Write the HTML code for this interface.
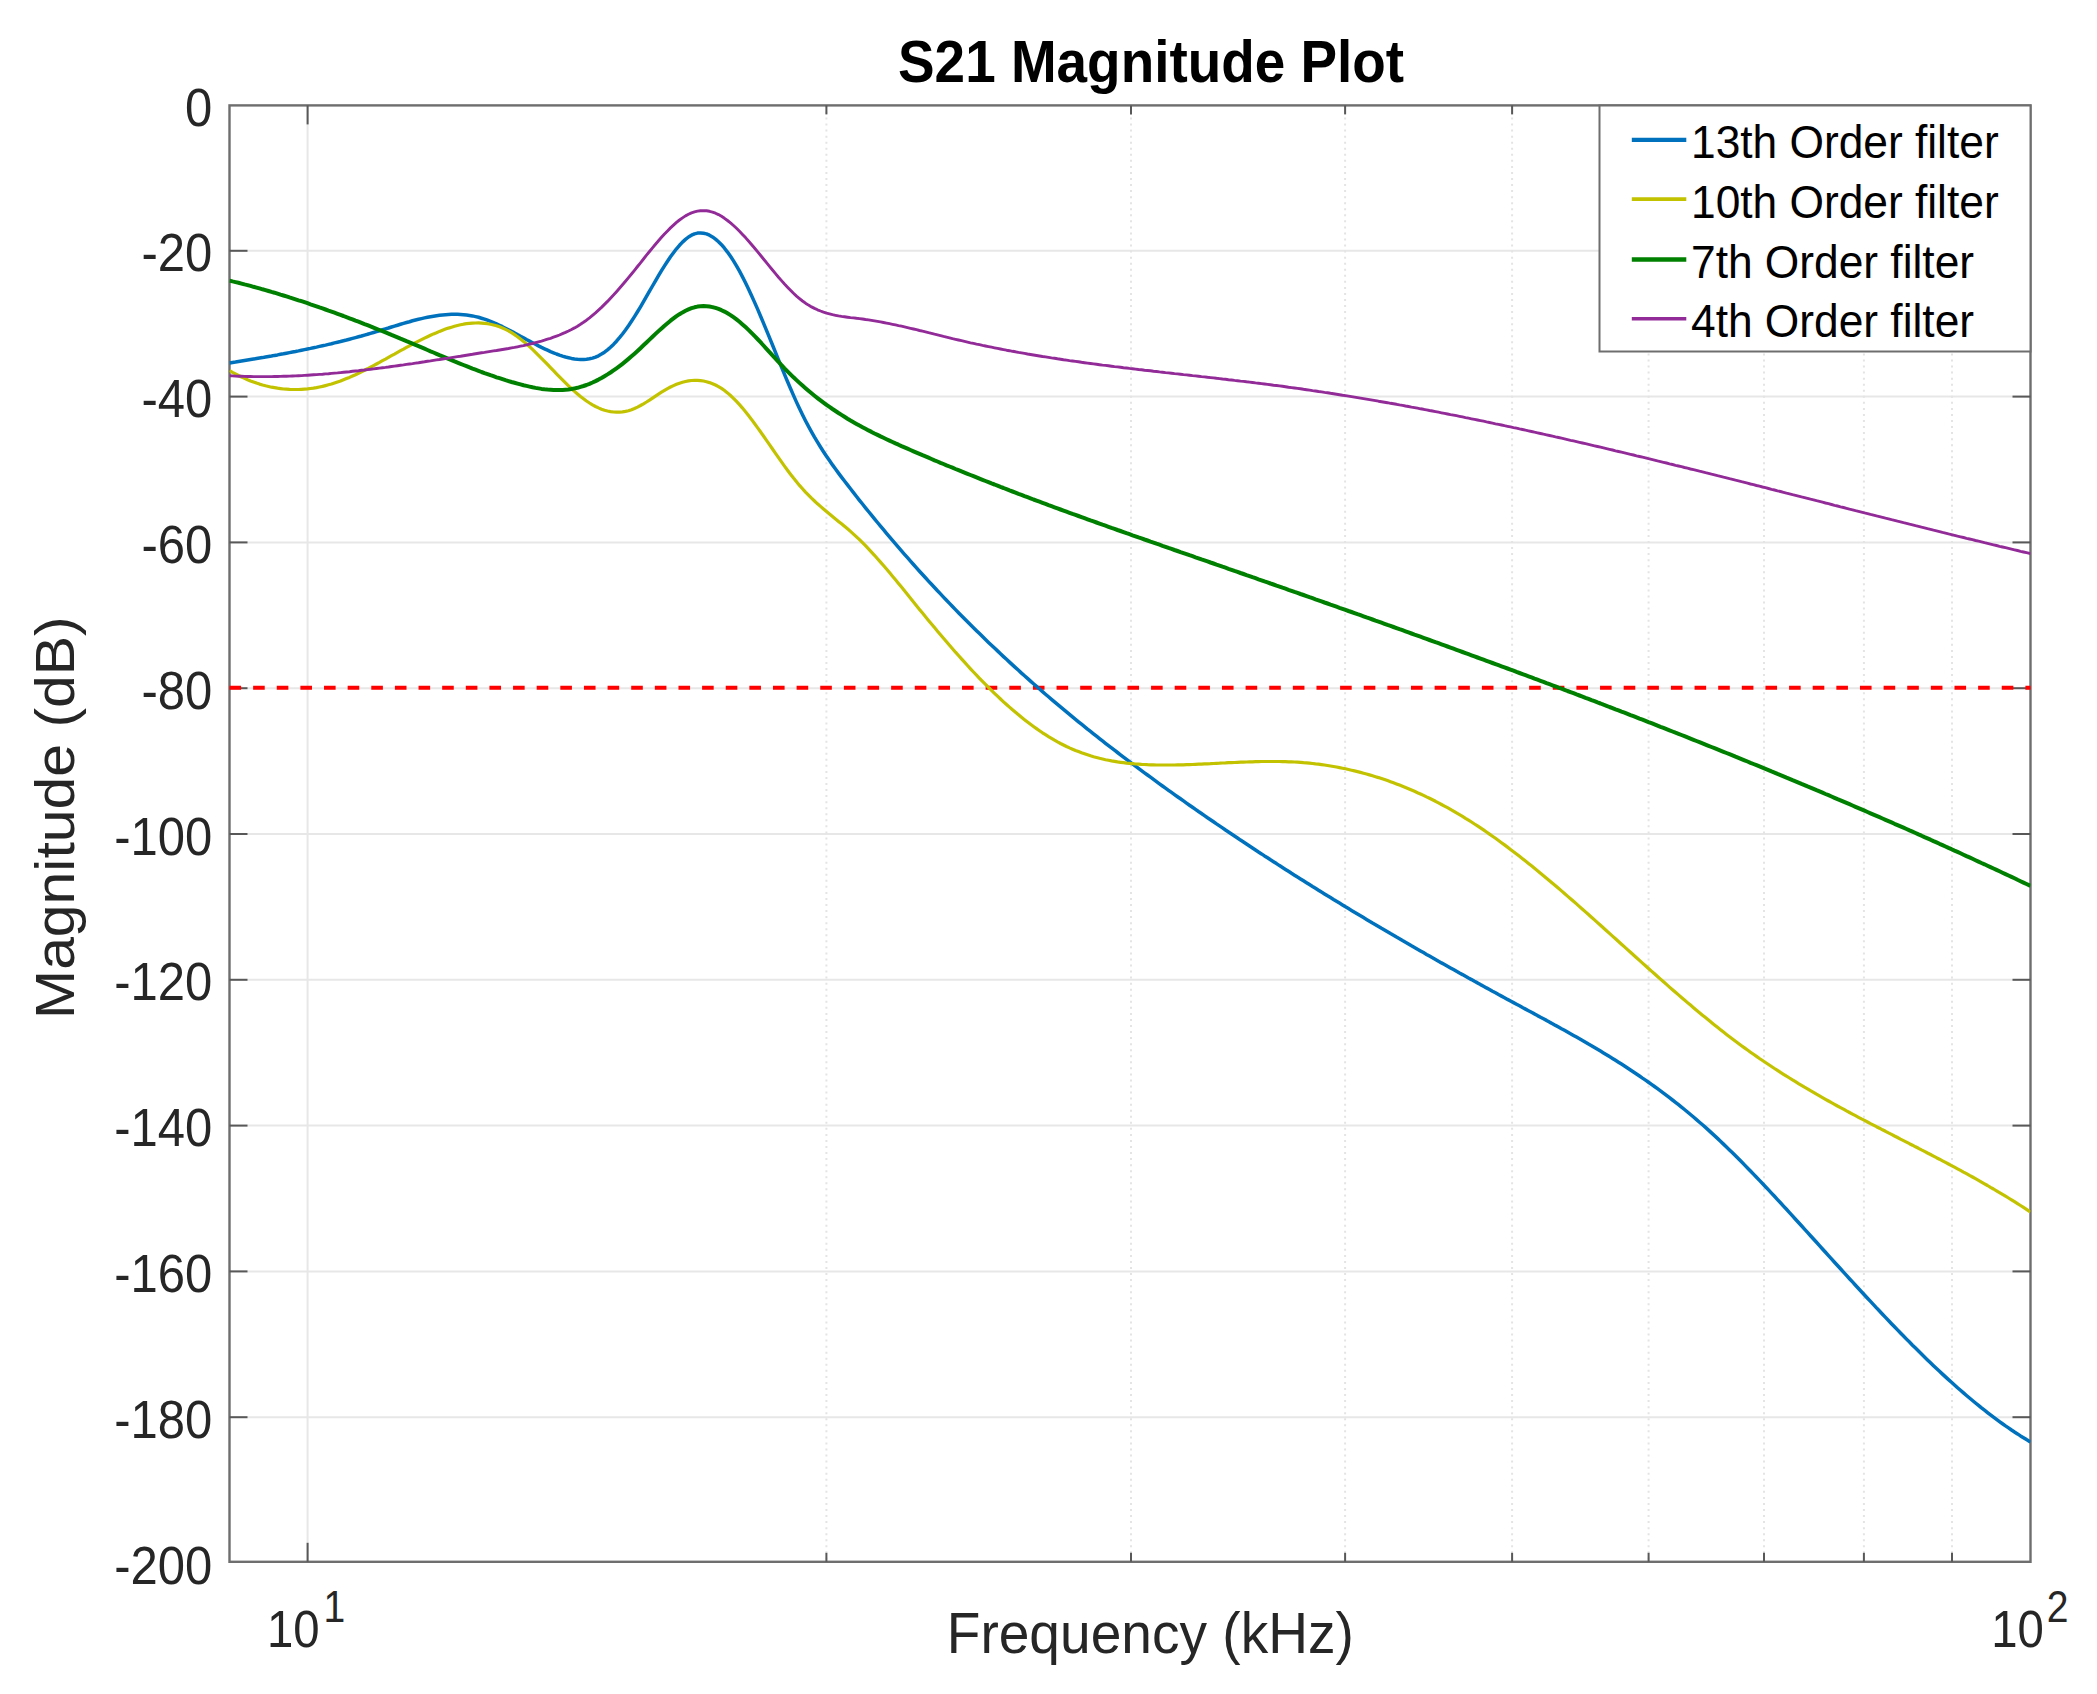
<!DOCTYPE html>
<html lang="en"><head><meta charset="utf-8"><title>S21 Magnitude Plot</title>
<style>html,body{margin:0;padding:0;background:#fff}body{width:2097px;height:1694px;overflow:hidden}svg{display:block}text{font-family:"Liberation Sans",sans-serif}.tk{font-size:54px;fill:#262626}.tx{font-size:52px;fill:#262626}.sp{font-size:44.4px;fill:#262626}.yl{font-size:55.4px;fill:#262626}.lb{font-size:57px;fill:#262626}.lg{font-size:46px;fill:#000}.tt{font-size:59px;font-weight:bold;fill:#000}</style></head><body>
<svg width="2097" height="1694" viewBox="0 0 2097 1694">
<rect width="2097" height="1694" fill="#fff"/>
<g stroke="#e7e7e7" stroke-width="2" fill="none">
<line x1="229.5" x2="2030.5" y1="250.8" y2="250.8"/>
<line x1="229.5" x2="2030.5" y1="396.6" y2="396.6"/>
<line x1="229.5" x2="2030.5" y1="542.4" y2="542.4"/>
<line x1="229.5" x2="2030.5" y1="688.2" y2="688.2"/>
<line x1="229.5" x2="2030.5" y1="834.0" y2="834.0"/>
<line x1="229.5" x2="2030.5" y1="979.8" y2="979.8"/>
<line x1="229.5" x2="2030.5" y1="1125.6" y2="1125.6"/>
<line x1="229.5" x2="2030.5" y1="1271.4" y2="1271.4"/>
<line x1="229.5" x2="2030.5" y1="1417.2" y2="1417.2"/>
<line x1="307.6" x2="307.6" y1="105.4" y2="1561.8"/>
</g>
<g stroke="#e4e4e4" stroke-width="2" stroke-dasharray="2 4.05" fill="none">
<line x1="826.4" x2="826.4" y1="105.4" y2="1561.8"/>
<line x1="1131.0" x2="1131.0" y1="105.4" y2="1561.8"/>
<line x1="1345.1" x2="1345.1" y1="105.4" y2="1561.8"/>
<line x1="1512.1" x2="1512.1" y1="105.4" y2="1561.8"/>
<line x1="1648.6" x2="1648.6" y1="105.4" y2="1561.8"/>
<line x1="1764.0" x2="1764.0" y1="105.4" y2="1561.8"/>
<line x1="1863.9" x2="1863.9" y1="105.4" y2="1561.8"/>
<line x1="1952.0" x2="1952.0" y1="105.4" y2="1561.8"/>
</g>
<rect x="229.5" y="105.4" width="1801.0" height="1456.3999999999999" fill="none" stroke="#6e6e6e" stroke-width="2.4"/>
<g stroke="#585858" stroke-width="2" fill="none">
<line x1="229.5" x2="247.5" y1="250.8" y2="250.8"/>
<line x1="2030.5" x2="2012.5" y1="250.8" y2="250.8"/>
<line x1="229.5" x2="247.5" y1="396.6" y2="396.6"/>
<line x1="2030.5" x2="2012.5" y1="396.6" y2="396.6"/>
<line x1="229.5" x2="247.5" y1="542.4" y2="542.4"/>
<line x1="2030.5" x2="2012.5" y1="542.4" y2="542.4"/>
<line x1="229.5" x2="247.5" y1="688.2" y2="688.2"/>
<line x1="2030.5" x2="2012.5" y1="688.2" y2="688.2"/>
<line x1="229.5" x2="247.5" y1="834.0" y2="834.0"/>
<line x1="2030.5" x2="2012.5" y1="834.0" y2="834.0"/>
<line x1="229.5" x2="247.5" y1="979.8" y2="979.8"/>
<line x1="2030.5" x2="2012.5" y1="979.8" y2="979.8"/>
<line x1="229.5" x2="247.5" y1="1125.6" y2="1125.6"/>
<line x1="2030.5" x2="2012.5" y1="1125.6" y2="1125.6"/>
<line x1="229.5" x2="247.5" y1="1271.4" y2="1271.4"/>
<line x1="2030.5" x2="2012.5" y1="1271.4" y2="1271.4"/>
<line x1="229.5" x2="247.5" y1="1417.2" y2="1417.2"/>
<line x1="2030.5" x2="2012.5" y1="1417.2" y2="1417.2"/>
<line x1="307.6" x2="307.6" y1="105.4" y2="124.4"/>
<line x1="307.6" x2="307.6" y1="1561.8" y2="1542.8"/>
<line x1="826.4" x2="826.4" y1="105.4" y2="114.4"/>
<line x1="826.4" x2="826.4" y1="1561.8" y2="1552.8"/>
<line x1="1131.0" x2="1131.0" y1="105.4" y2="114.4"/>
<line x1="1131.0" x2="1131.0" y1="1561.8" y2="1552.8"/>
<line x1="1345.1" x2="1345.1" y1="105.4" y2="114.4"/>
<line x1="1345.1" x2="1345.1" y1="1561.8" y2="1552.8"/>
<line x1="1512.1" x2="1512.1" y1="105.4" y2="114.4"/>
<line x1="1512.1" x2="1512.1" y1="1561.8" y2="1552.8"/>
<line x1="1648.6" x2="1648.6" y1="105.4" y2="114.4"/>
<line x1="1648.6" x2="1648.6" y1="1561.8" y2="1552.8"/>
<line x1="1764.0" x2="1764.0" y1="105.4" y2="114.4"/>
<line x1="1764.0" x2="1764.0" y1="1561.8" y2="1552.8"/>
<line x1="1863.9" x2="1863.9" y1="105.4" y2="114.4"/>
<line x1="1863.9" x2="1863.9" y1="1561.8" y2="1552.8"/>
<line x1="1952.0" x2="1952.0" y1="105.4" y2="114.4"/>
<line x1="1952.0" x2="1952.0" y1="1561.8" y2="1552.8"/>
</g>
<line x1="229.5" x2="2030.5" y1="687.8" y2="687.8" stroke="#ff0000" stroke-width="3.9" stroke-dasharray="11.6 12.03"/>
<clipPath id="c"><rect x="229.5" y="105.4" width="1801.0" height="1456.3999999999999"/></clipPath>
<g clip-path="url(#c)" fill="none" stroke-linejoin="round" stroke-linecap="butt">
<path d="M229.5,363.0 L232.5,362.5 L235.5,362.1 L238.5,361.6 L241.5,361.1 L244.5,360.6 L247.5,360.1 L250.5,359.6 L253.5,359.1 L256.5,358.6 L259.5,358.1 L262.5,357.6 L265.5,357.0 L268.5,356.5 L271.5,356.0 L274.5,355.4 L277.5,354.9 L280.5,354.3 L283.5,353.8 L286.5,353.2 L289.5,352.6 L292.5,352.0 L295.5,351.5 L298.5,350.9 L301.5,350.2 L304.5,349.6 L307.5,349.0 L310.5,348.4 L313.5,347.7 L316.5,347.1 L319.5,346.4 L322.5,345.7 L325.5,345.1 L328.5,344.4 L331.5,343.7 L334.5,342.9 L337.5,342.2 L340.5,341.5 L343.5,340.7 L346.5,340.0 L349.5,339.2 L352.5,338.4 L355.5,337.6 L358.5,336.8 L361.5,336.0 L364.5,335.1 L367.5,334.3 L370.5,333.4 L373.5,332.5 L376.5,331.6 L379.5,330.7 L382.5,329.8 L385.5,328.9 L388.5,328.0 L391.5,327.0 L394.5,326.1 L397.5,325.2 L400.5,324.3 L403.5,323.4 L406.5,322.5 L409.5,321.7 L412.5,320.8 L415.5,320.0 L418.5,319.3 L421.5,318.6 L424.5,317.9 L427.5,317.3 L430.5,316.7 L433.5,316.2 L436.5,315.7 L439.5,315.3 L442.5,314.9 L445.5,314.7 L448.5,314.5 L451.5,314.3 L454.5,314.3 L457.5,314.3 L460.5,314.5 L463.5,314.7 L466.5,315.0 L469.5,315.4 L472.5,315.9 L475.5,316.6 L478.5,317.3 L481.5,318.2 L484.5,319.1 L487.5,320.2 L490.5,321.3 L493.5,322.6 L496.5,323.9 L499.5,325.3 L502.5,326.7 L505.5,328.2 L508.5,329.7 L511.5,331.3 L514.5,332.9 L517.5,334.6 L520.5,336.2 L523.5,337.8 L526.5,339.5 L529.5,341.1 L532.5,342.7 L535.5,344.3 L538.5,345.9 L541.5,347.4 L544.5,348.8 L547.5,350.2 L550.5,351.6 L553.5,352.8 L556.5,354.0 L559.5,355.1 L562.5,356.1 L565.5,357.0 L568.5,357.7 L571.5,358.4 L574.5,358.9 L577.5,359.2 L580.5,359.4 L583.5,359.5 L586.5,359.2 L589.5,358.8 L592.5,358.1 L595.5,357.1 L598.5,355.8 L601.5,354.1 L604.5,352.2 L607.5,349.9 L610.5,347.3 L613.5,344.4 L616.5,341.2 L619.5,337.7 L622.5,334.0 L625.5,330.0 L628.5,325.8 L631.5,321.3 L634.5,316.6 L637.5,311.8 L640.5,306.8 L643.5,301.6 L646.5,296.4 L649.5,291.2 L652.5,286.0 L655.5,280.8 L658.5,275.7 L661.5,270.7 L664.5,265.9 L667.5,261.2 L670.5,256.8 L673.5,252.7 L676.5,248.8 L679.5,245.3 L682.5,242.1 L685.5,239.4 L688.5,237.0 L691.5,235.2 L694.5,233.9 L697.5,233.1 L700.5,232.9 L703.5,233.2 L706.5,233.9 L709.5,235.2 L712.5,236.9 L715.5,239.1 L718.5,241.7 L721.5,244.7 L724.5,248.2 L727.5,252.1 L730.5,256.3 L733.5,260.9 L736.5,265.9 L739.5,271.2 L742.5,276.8 L745.5,282.7 L748.5,289.0 L751.5,295.4 L754.5,302.1 L757.5,308.9 L760.5,316.0 L763.5,323.1 L766.5,330.4 L769.5,337.7 L772.5,345.0 L775.5,352.4 L778.5,359.8 L781.5,367.1 L784.5,374.4 L787.5,381.5 L790.5,388.5 L793.5,395.4 L796.5,402.1 L799.5,408.5 L802.5,414.7 L805.5,420.7 L808.5,426.4 L811.5,431.8 L814.5,437.1 L817.5,442.1 L820.5,447.0 L823.5,451.7 L826.5,456.2 L829.5,460.6 L832.5,464.9 L835.5,469.0 L838.5,473.1 L841.5,477.1 L844.5,481.0 L847.5,484.9 L850.5,488.8 L853.5,492.6 L856.5,496.5 L859.5,500.3 L862.5,504.0 L865.5,507.8 L868.5,511.5 L871.5,515.2 L874.5,518.9 L877.5,522.5 L880.5,526.1 L883.5,529.7 L886.5,533.3 L889.5,536.9 L892.5,540.4 L895.5,543.9 L898.5,547.4 L901.5,550.9 L904.5,554.3 L907.5,557.7 L910.5,561.1 L913.5,564.5 L916.5,567.9 L919.5,571.2 L922.5,574.5 L925.5,577.8 L928.5,581.1 L931.5,584.3 L934.5,587.5 L937.5,590.8 L940.5,593.9 L943.5,597.1 L946.5,600.3 L949.5,603.4 L952.5,606.5 L955.5,609.6 L958.5,612.7 L961.5,615.7 L964.5,618.8 L967.5,621.8 L970.5,624.8 L973.5,627.7 L976.5,630.7 L979.5,633.6 L982.5,636.6 L985.5,639.5 L988.5,642.4 L991.5,645.2 L994.5,648.1 L997.5,650.9 L1000.5,653.8 L1003.5,656.6 L1006.5,659.3 L1009.5,662.1 L1012.5,664.9 L1015.5,667.6 L1018.5,670.3 L1021.5,673.1 L1024.5,675.7 L1027.5,678.4 L1030.5,681.1 L1033.5,683.7 L1036.5,686.4 L1039.5,689.0 L1042.5,691.6 L1045.5,694.2 L1048.5,696.8 L1051.5,699.3 L1054.5,701.9 L1057.5,704.4 L1060.5,706.9 L1063.5,709.4 L1066.5,711.9 L1069.5,714.4 L1072.5,716.9 L1075.5,719.3 L1078.5,721.8 L1081.5,724.2 L1084.5,726.6 L1087.5,729.1 L1090.5,731.4 L1093.5,733.8 L1096.5,736.2 L1099.5,738.6 L1102.5,740.9 L1105.5,743.3 L1108.5,745.6 L1111.5,747.9 L1114.5,750.2 L1117.5,752.5 L1120.5,754.8 L1123.5,757.1 L1126.5,759.4 L1129.5,761.6 L1132.5,763.9 L1135.5,766.1 L1138.5,768.4 L1141.5,770.6 L1144.5,772.8 L1147.5,775.0 L1150.5,777.2 L1153.5,779.4 L1156.5,781.6 L1159.5,783.8 L1162.5,786.0 L1165.5,788.1 L1168.5,790.3 L1171.5,792.4 L1174.5,794.6 L1177.5,796.7 L1180.5,798.8 L1183.5,800.9 L1186.5,803.1 L1189.5,805.2 L1192.5,807.3 L1195.5,809.4 L1198.5,811.5 L1201.5,813.5 L1204.5,815.6 L1207.5,817.7 L1210.5,819.7 L1213.5,821.8 L1216.5,823.9 L1219.5,825.9 L1222.5,827.9 L1225.5,830.0 L1228.5,832.0 L1231.5,834.0 L1234.5,836.0 L1237.5,838.0 L1240.5,840.1 L1243.5,842.0 L1246.5,844.0 L1249.5,846.0 L1252.5,848.0 L1255.5,850.0 L1258.5,852.0 L1261.5,853.9 L1264.5,855.9 L1267.5,857.8 L1270.5,859.8 L1273.5,861.7 L1276.5,863.6 L1279.5,865.6 L1282.5,867.5 L1285.5,869.4 L1288.5,871.3 L1291.5,873.3 L1294.5,875.2 L1297.5,877.1 L1300.5,878.9 L1303.5,880.8 L1306.5,882.7 L1309.5,884.6 L1312.5,886.5 L1315.5,888.3 L1318.5,890.2 L1321.5,892.1 L1324.5,893.9 L1327.5,895.8 L1330.5,897.6 L1333.5,899.5 L1336.5,901.3 L1339.5,903.1 L1342.5,904.9 L1345.5,906.8 L1348.5,908.6 L1351.5,910.4 L1354.5,912.2 L1357.5,914.0 L1360.5,915.8 L1363.5,917.6 L1366.5,919.4 L1369.5,921.2 L1372.5,923.0 L1375.5,924.7 L1378.5,926.5 L1381.5,928.3 L1384.5,930.0 L1387.5,931.8 L1390.5,933.6 L1393.5,935.3 L1396.5,937.1 L1399.5,938.8 L1402.5,940.6 L1405.5,942.3 L1408.5,944.0 L1411.5,945.8 L1414.5,947.5 L1417.5,949.2 L1420.5,950.9 L1423.5,952.6 L1426.5,954.4 L1429.5,956.1 L1432.5,957.8 L1435.5,959.5 L1438.5,961.2 L1441.5,962.9 L1444.5,964.5 L1447.5,966.2 L1450.5,967.9 L1453.5,969.6 L1456.5,971.3 L1459.5,973.0 L1462.5,974.6 L1465.5,976.3 L1468.5,978.0 L1471.5,979.6 L1474.5,981.3 L1477.5,982.9 L1480.5,984.6 L1483.5,986.2 L1486.5,987.9 L1489.5,989.5 L1492.5,991.2 L1495.5,992.8 L1498.5,994.5 L1501.5,996.1 L1504.5,997.7 L1507.5,999.4 L1510.5,1001.0 L1513.5,1002.6 L1516.5,1004.2 L1519.5,1005.8 L1522.5,1007.5 L1525.5,1009.1 L1528.5,1010.7 L1531.5,1012.3 L1534.5,1013.9 L1537.5,1015.6 L1540.5,1017.2 L1543.5,1018.8 L1546.5,1020.4 L1549.5,1022.1 L1552.5,1023.7 L1555.5,1025.4 L1558.5,1027.0 L1561.5,1028.7 L1564.5,1030.3 L1567.5,1032.0 L1570.5,1033.7 L1573.5,1035.4 L1576.5,1037.1 L1579.5,1038.8 L1582.5,1040.5 L1585.5,1042.2 L1588.5,1044.0 L1591.5,1045.7 L1594.5,1047.5 L1597.5,1049.3 L1600.5,1051.1 L1603.5,1052.9 L1606.5,1054.7 L1609.5,1056.6 L1612.5,1058.4 L1615.5,1060.3 L1618.5,1062.2 L1621.5,1064.1 L1624.5,1066.0 L1627.5,1068.0 L1630.5,1070.0 L1633.5,1072.0 L1636.5,1074.0 L1639.5,1076.0 L1642.5,1078.1 L1645.5,1080.1 L1648.5,1082.2 L1651.5,1084.4 L1654.5,1086.5 L1657.5,1088.7 L1660.5,1090.9 L1663.5,1093.1 L1666.5,1095.4 L1669.5,1097.7 L1672.5,1100.0 L1675.5,1102.3 L1678.5,1104.7 L1681.5,1107.1 L1684.5,1109.5 L1687.5,1112.0 L1690.5,1114.5 L1693.5,1117.0 L1696.5,1119.6 L1699.5,1122.2 L1702.5,1124.8 L1705.5,1127.4 L1708.5,1130.1 L1711.5,1132.9 L1714.5,1135.6 L1717.5,1138.4 L1720.5,1141.3 L1723.5,1144.1 L1726.5,1147.0 L1729.5,1149.9 L1732.5,1152.8 L1735.5,1155.8 L1738.5,1158.8 L1741.5,1161.8 L1744.5,1164.9 L1747.5,1167.9 L1750.5,1171.0 L1753.5,1174.1 L1756.5,1177.2 L1759.5,1180.4 L1762.5,1183.5 L1765.5,1186.7 L1768.5,1189.9 L1771.5,1193.1 L1774.5,1196.3 L1777.5,1199.6 L1780.5,1202.8 L1783.5,1206.1 L1786.5,1209.3 L1789.5,1212.6 L1792.5,1215.9 L1795.5,1219.2 L1798.5,1222.5 L1801.5,1225.8 L1804.5,1229.1 L1807.5,1232.4 L1810.5,1235.7 L1813.5,1239.0 L1816.5,1242.3 L1819.5,1245.7 L1822.5,1249.0 L1825.5,1252.3 L1828.5,1255.6 L1831.5,1258.9 L1834.5,1262.2 L1837.5,1265.5 L1840.5,1268.8 L1843.5,1272.1 L1846.5,1275.4 L1849.5,1278.7 L1852.5,1281.9 L1855.5,1285.2 L1858.5,1288.5 L1861.5,1291.7 L1864.5,1295.0 L1867.5,1298.2 L1870.5,1301.4 L1873.5,1304.6 L1876.5,1307.9 L1879.5,1311.0 L1882.5,1314.2 L1885.5,1317.4 L1888.5,1320.5 L1891.5,1323.7 L1894.5,1326.8 L1897.5,1329.9 L1900.5,1333.0 L1903.5,1336.0 L1906.5,1339.1 L1909.5,1342.1 L1912.5,1345.2 L1915.5,1348.1 L1918.5,1351.1 L1921.5,1354.1 L1924.5,1357.0 L1927.5,1359.9 L1930.5,1362.8 L1933.5,1365.7 L1936.5,1368.5 L1939.5,1371.3 L1942.5,1374.1 L1945.5,1376.9 L1948.5,1379.6 L1951.5,1382.3 L1954.5,1385.0 L1957.5,1387.7 L1960.5,1390.3 L1963.5,1392.9 L1966.5,1395.5 L1969.5,1398.0 L1972.5,1400.5 L1975.5,1403.0 L1978.5,1405.4 L1981.5,1407.9 L1984.5,1410.2 L1987.5,1412.6 L1990.5,1414.9 L1993.5,1417.1 L1996.5,1419.4 L1999.5,1421.6 L2002.5,1423.7 L2005.5,1425.9 L2008.5,1427.9 L2011.5,1430.0 L2014.5,1432.0 L2017.5,1433.9 L2020.5,1435.9 L2023.5,1437.7 L2026.5,1439.6 L2029.5,1441.4 L2030.5,1442.0" stroke="#0072bd" stroke-width="3.5"/>
<path d="M229.5,370.5 L232.5,372.3 L235.5,373.9 L238.5,375.5 L241.5,377.0 L244.5,378.3 L247.5,379.7 L250.5,380.9 L253.5,382.0 L256.5,383.1 L259.5,384.1 L262.5,385.0 L265.5,385.8 L268.5,386.5 L271.5,387.2 L274.5,387.7 L277.5,388.2 L280.5,388.6 L283.5,389.0 L286.5,389.2 L289.5,389.4 L292.5,389.5 L295.5,389.5 L298.5,389.5 L301.5,389.3 L304.5,389.1 L307.5,388.9 L310.5,388.5 L313.5,388.1 L316.5,387.6 L319.5,387.0 L322.5,386.4 L325.5,385.6 L328.5,384.8 L331.5,384.0 L334.5,383.0 L337.5,382.0 L340.5,381.0 L343.5,379.8 L346.5,378.6 L349.5,377.4 L352.5,376.0 L355.5,374.7 L358.5,373.3 L361.5,371.8 L364.5,370.3 L367.5,368.8 L370.5,367.2 L373.5,365.6 L376.5,364.0 L379.5,362.4 L382.5,360.7 L385.5,359.1 L388.5,357.4 L391.5,355.7 L394.5,354.1 L397.5,352.4 L400.5,350.7 L403.5,349.1 L406.5,347.4 L409.5,345.8 L412.5,344.2 L415.5,342.6 L418.5,341.1 L421.5,339.6 L424.5,338.1 L427.5,336.7 L430.5,335.3 L433.5,333.9 L436.5,332.7 L439.5,331.4 L442.5,330.2 L445.5,329.1 L448.5,328.1 L451.5,327.2 L454.5,326.3 L457.5,325.5 L460.5,324.8 L463.5,324.2 L466.5,323.7 L469.5,323.4 L472.5,323.1 L475.5,323.0 L478.5,322.9 L481.5,323.1 L484.5,323.3 L487.5,323.7 L490.5,324.3 L493.5,325.0 L496.5,325.8 L499.5,326.8 L502.5,328.0 L505.5,329.4 L508.5,330.9 L511.5,332.7 L514.5,334.6 L517.5,336.7 L520.5,339.0 L523.5,341.4 L526.5,344.0 L529.5,346.6 L532.5,349.4 L535.5,352.3 L538.5,355.3 L541.5,358.3 L544.5,361.3 L547.5,364.4 L550.5,367.6 L553.5,370.7 L556.5,373.8 L559.5,376.9 L562.5,379.9 L565.5,382.9 L568.5,385.8 L571.5,388.7 L574.5,391.4 L577.5,394.0 L580.5,396.5 L583.5,398.8 L586.5,401.0 L589.5,403.0 L592.5,404.9 L595.5,406.5 L598.5,407.9 L601.5,409.2 L604.5,410.2 L607.5,411.0 L610.5,411.6 L613.5,412.0 L616.5,412.2 L619.5,412.2 L622.5,411.9 L625.5,411.4 L628.5,410.7 L631.5,409.7 L634.5,408.5 L637.5,407.1 L640.5,405.5 L643.5,403.8 L646.5,402.0 L649.5,400.1 L652.5,398.1 L655.5,396.1 L658.5,394.1 L661.5,392.2 L664.5,390.4 L667.5,388.6 L670.5,387.0 L673.5,385.6 L676.5,384.3 L679.5,383.2 L682.5,382.3 L685.5,381.5 L688.5,380.9 L691.5,380.5 L694.5,380.4 L697.5,380.4 L700.5,380.6 L703.5,381.0 L706.5,381.7 L709.5,382.6 L712.5,383.7 L715.5,385.0 L718.5,386.6 L721.5,388.4 L724.5,390.5 L727.5,392.9 L730.5,395.5 L733.5,398.3 L736.5,401.4 L739.5,404.7 L742.5,408.1 L745.5,411.7 L748.5,415.5 L751.5,419.4 L754.5,423.5 L757.5,427.6 L760.5,431.8 L763.5,436.0 L766.5,440.3 L769.5,444.7 L772.5,449.0 L775.5,453.3 L778.5,457.6 L781.5,461.9 L784.5,466.1 L787.5,470.2 L790.5,474.2 L793.5,478.1 L796.5,481.8 L799.5,485.4 L802.5,488.8 L805.5,492.1 L808.5,495.2 L811.5,498.2 L814.5,501.0 L817.5,503.8 L820.5,506.4 L823.5,509.0 L826.5,511.5 L829.5,514.0 L832.5,516.5 L835.5,518.9 L838.5,521.4 L841.5,523.8 L844.5,526.3 L847.5,528.8 L850.5,531.4 L853.5,534.1 L856.5,536.9 L859.5,539.7 L862.5,542.7 L865.5,545.7 L868.5,548.9 L871.5,552.1 L874.5,555.3 L877.5,558.7 L880.5,562.1 L883.5,565.5 L886.5,569.0 L889.5,572.6 L892.5,576.2 L895.5,579.8 L898.5,583.4 L901.5,587.1 L904.5,590.8 L907.5,594.5 L910.5,598.2 L913.5,601.9 L916.5,605.7 L919.5,609.4 L922.5,613.1 L925.5,616.7 L928.5,620.4 L931.5,624.0 L934.5,627.6 L937.5,631.2 L940.5,634.8 L943.5,638.3 L946.5,641.8 L949.5,645.3 L952.5,648.7 L955.5,652.2 L958.5,655.5 L961.5,658.9 L964.5,662.2 L967.5,665.5 L970.5,668.8 L973.5,672.0 L976.5,675.1 L979.5,678.3 L982.5,681.4 L985.5,684.4 L988.5,687.4 L991.5,690.4 L994.5,693.3 L997.5,696.2 L1000.5,699.0 L1003.5,701.8 L1006.5,704.5 L1009.5,707.1 L1012.5,709.8 L1015.5,712.3 L1018.5,714.8 L1021.5,717.3 L1024.5,719.7 L1027.5,722.0 L1030.5,724.3 L1033.5,726.5 L1036.5,728.6 L1039.5,730.7 L1042.5,732.8 L1045.5,734.7 L1048.5,736.6 L1051.5,738.4 L1054.5,740.2 L1057.5,741.9 L1060.5,743.5 L1063.5,745.0 L1066.5,746.5 L1069.5,747.9 L1072.5,749.2 L1075.5,750.5 L1078.5,751.6 L1081.5,752.8 L1084.5,753.8 L1087.5,754.8 L1090.5,755.8 L1093.5,756.7 L1096.5,757.5 L1099.5,758.3 L1102.5,759.0 L1105.5,759.7 L1108.5,760.3 L1111.5,760.9 L1114.5,761.4 L1117.5,761.9 L1120.5,762.3 L1123.5,762.7 L1126.5,763.1 L1129.5,763.4 L1132.5,763.7 L1135.5,764.0 L1138.5,764.2 L1141.5,764.4 L1144.5,764.5 L1147.5,764.7 L1150.5,764.8 L1153.5,764.9 L1156.5,765.0 L1159.5,765.0 L1162.5,765.0 L1165.5,765.0 L1168.5,765.0 L1171.5,765.0 L1174.5,765.0 L1177.5,764.9 L1180.5,764.8 L1183.5,764.8 L1186.5,764.7 L1189.5,764.6 L1192.5,764.5 L1195.5,764.3 L1198.5,764.2 L1201.5,764.1 L1204.5,763.9 L1207.5,763.8 L1210.5,763.7 L1213.5,763.5 L1216.5,763.3 L1219.5,763.2 L1222.5,763.0 L1225.5,762.9 L1228.5,762.7 L1231.5,762.6 L1234.5,762.5 L1237.5,762.3 L1240.5,762.2 L1243.5,762.1 L1246.5,762.0 L1249.5,761.8 L1252.5,761.8 L1255.5,761.7 L1258.5,761.6 L1261.5,761.5 L1264.5,761.5 L1267.5,761.5 L1270.5,761.5 L1273.5,761.5 L1276.5,761.5 L1279.5,761.5 L1282.5,761.6 L1285.5,761.7 L1288.5,761.8 L1291.5,761.9 L1294.5,762.0 L1297.5,762.2 L1300.5,762.4 L1303.5,762.7 L1306.5,762.9 L1309.5,763.2 L1312.5,763.5 L1315.5,763.9 L1318.5,764.2 L1321.5,764.6 L1324.5,765.0 L1327.5,765.5 L1330.5,766.0 L1333.5,766.5 L1336.5,767.0 L1339.5,767.6 L1342.5,768.2 L1345.5,768.8 L1348.5,769.5 L1351.5,770.2 L1354.5,770.9 L1357.5,771.6 L1360.5,772.4 L1363.5,773.2 L1366.5,774.0 L1369.5,774.9 L1372.5,775.8 L1375.5,776.7 L1378.5,777.6 L1381.5,778.6 L1384.5,779.6 L1387.5,780.6 L1390.5,781.7 L1393.5,782.8 L1396.5,783.9 L1399.5,785.1 L1402.5,786.3 L1405.5,787.5 L1408.5,788.7 L1411.5,790.0 L1414.5,791.3 L1417.5,792.7 L1420.5,794.0 L1423.5,795.4 L1426.5,796.9 L1429.5,798.3 L1432.5,799.8 L1435.5,801.3 L1438.5,802.9 L1441.5,804.5 L1444.5,806.1 L1447.5,807.7 L1450.5,809.4 L1453.5,811.1 L1456.5,812.9 L1459.5,814.6 L1462.5,816.4 L1465.5,818.3 L1468.5,820.1 L1471.5,822.0 L1474.5,824.0 L1477.5,825.9 L1480.5,827.9 L1483.5,829.9 L1486.5,832.0 L1489.5,834.1 L1492.5,836.2 L1495.5,838.3 L1498.5,840.5 L1501.5,842.7 L1504.5,844.9 L1507.5,847.1 L1510.5,849.4 L1513.5,851.7 L1516.5,854.0 L1519.5,856.3 L1522.5,858.7 L1525.5,861.0 L1528.5,863.4 L1531.5,865.8 L1534.5,868.3 L1537.5,870.7 L1540.5,873.2 L1543.5,875.7 L1546.5,878.2 L1549.5,880.7 L1552.5,883.2 L1555.5,885.8 L1558.5,888.3 L1561.5,890.9 L1564.5,893.5 L1567.5,896.1 L1570.5,898.7 L1573.5,901.3 L1576.5,903.9 L1579.5,906.6 L1582.5,909.2 L1585.5,911.9 L1588.5,914.5 L1591.5,917.2 L1594.5,919.9 L1597.5,922.6 L1600.5,925.3 L1603.5,928.0 L1606.5,930.7 L1609.5,933.4 L1612.5,936.1 L1615.5,938.8 L1618.5,941.5 L1621.5,944.2 L1624.5,946.9 L1627.5,949.6 L1630.5,952.3 L1633.5,955.0 L1636.5,957.7 L1639.5,960.4 L1642.5,963.1 L1645.5,965.8 L1648.5,968.5 L1651.5,971.1 L1654.5,973.8 L1657.5,976.5 L1660.5,979.1 L1663.5,981.8 L1666.5,984.4 L1669.5,987.1 L1672.5,989.7 L1675.5,992.3 L1678.5,994.9 L1681.5,997.5 L1684.5,1000.0 L1687.5,1002.6 L1690.5,1005.1 L1693.5,1007.7 L1696.5,1010.2 L1699.5,1012.7 L1702.5,1015.2 L1705.5,1017.6 L1708.5,1020.1 L1711.5,1022.5 L1714.5,1024.9 L1717.5,1027.3 L1720.5,1029.7 L1723.5,1032.1 L1726.5,1034.4 L1729.5,1036.7 L1732.5,1039.0 L1735.5,1041.2 L1738.5,1043.5 L1741.5,1045.7 L1744.5,1047.9 L1747.5,1050.0 L1750.5,1052.2 L1753.5,1054.3 L1756.5,1056.4 L1759.5,1058.5 L1762.5,1060.5 L1765.5,1062.5 L1768.5,1064.5 L1771.5,1066.5 L1774.5,1068.5 L1777.5,1070.4 L1780.5,1072.4 L1783.5,1074.3 L1786.5,1076.2 L1789.5,1078.0 L1792.5,1079.9 L1795.5,1081.7 L1798.5,1083.6 L1801.5,1085.4 L1804.5,1087.2 L1807.5,1088.9 L1810.5,1090.7 L1813.5,1092.4 L1816.5,1094.2 L1819.5,1095.9 L1822.5,1097.6 L1825.5,1099.3 L1828.5,1101.0 L1831.5,1102.7 L1834.5,1104.3 L1837.5,1106.0 L1840.5,1107.6 L1843.5,1109.2 L1846.5,1110.9 L1849.5,1112.5 L1852.5,1114.1 L1855.5,1115.7 L1858.5,1117.3 L1861.5,1118.9 L1864.5,1120.4 L1867.5,1122.0 L1870.5,1123.6 L1873.5,1125.1 L1876.5,1126.7 L1879.5,1128.2 L1882.5,1129.8 L1885.5,1131.3 L1888.5,1132.9 L1891.5,1134.4 L1894.5,1136.0 L1897.5,1137.5 L1900.5,1139.1 L1903.5,1140.6 L1906.5,1142.1 L1909.5,1143.7 L1912.5,1145.2 L1915.5,1146.8 L1918.5,1148.3 L1921.5,1149.9 L1924.5,1151.4 L1927.5,1153.0 L1930.5,1154.5 L1933.5,1156.1 L1936.5,1157.7 L1939.5,1159.2 L1942.5,1160.8 L1945.5,1162.4 L1948.5,1164.0 L1951.5,1165.6 L1954.5,1167.2 L1957.5,1168.8 L1960.5,1170.4 L1963.5,1172.1 L1966.5,1173.7 L1969.5,1175.4 L1972.5,1177.0 L1975.5,1178.7 L1978.5,1180.4 L1981.5,1182.1 L1984.5,1183.8 L1987.5,1185.5 L1990.5,1187.3 L1993.5,1189.0 L1996.5,1190.8 L1999.5,1192.6 L2002.5,1194.4 L2005.5,1196.2 L2008.5,1198.0 L2011.5,1199.8 L2014.5,1201.7 L2017.5,1203.6 L2020.5,1205.5 L2023.5,1207.4 L2026.5,1209.3 L2029.5,1211.3 L2030.5,1211.9" stroke="#c2c200" stroke-width="3.2"/>
<path d="M229.5,280.6 L232.5,281.4 L235.5,282.1 L238.5,282.8 L241.5,283.6 L244.5,284.4 L247.5,285.1 L250.5,285.9 L253.5,286.8 L256.5,287.6 L259.5,288.4 L262.5,289.3 L265.5,290.1 L268.5,291.0 L271.5,291.9 L274.5,292.7 L277.5,293.6 L280.5,294.6 L283.5,295.5 L286.5,296.4 L289.5,297.4 L292.5,298.3 L295.5,299.3 L298.5,300.3 L301.5,301.2 L304.5,302.2 L307.5,303.2 L310.5,304.3 L313.5,305.3 L316.5,306.3 L319.5,307.4 L322.5,308.4 L325.5,309.5 L328.5,310.6 L331.5,311.6 L334.5,312.7 L337.5,313.8 L340.5,314.9 L343.5,316.0 L346.5,317.2 L349.5,318.3 L352.5,319.4 L355.5,320.6 L358.5,321.7 L361.5,322.9 L364.5,324.1 L367.5,325.2 L370.5,326.4 L373.5,327.6 L376.5,328.8 L379.5,330.0 L382.5,331.2 L385.5,332.4 L388.5,333.6 L391.5,334.9 L394.5,336.1 L397.5,337.3 L400.5,338.6 L403.5,339.8 L406.5,341.1 L409.5,342.3 L412.5,343.6 L415.5,344.9 L418.5,346.1 L421.5,347.4 L424.5,348.7 L427.5,350.0 L430.5,351.3 L433.5,352.5 L436.5,353.8 L439.5,355.1 L442.5,356.3 L445.5,357.6 L448.5,358.9 L451.5,360.1 L454.5,361.4 L457.5,362.6 L460.5,363.8 L463.5,365.0 L466.5,366.2 L469.5,367.4 L472.5,368.6 L475.5,369.7 L478.5,370.8 L481.5,372.0 L484.5,373.1 L487.5,374.1 L490.5,375.2 L493.5,376.2 L496.5,377.3 L499.5,378.2 L502.5,379.2 L505.5,380.2 L508.5,381.1 L511.5,382.0 L514.5,382.8 L517.5,383.6 L520.5,384.4 L523.5,385.2 L526.5,385.9 L529.5,386.6 L532.5,387.3 L535.5,387.9 L538.5,388.4 L541.5,388.9 L544.5,389.3 L547.5,389.6 L550.5,389.8 L553.5,390.0 L556.5,390.1 L559.5,390.1 L562.5,390.0 L565.5,389.7 L568.5,389.4 L571.5,389.0 L574.5,388.4 L577.5,387.8 L580.5,386.9 L583.5,386.0 L586.5,385.0 L589.5,383.8 L592.5,382.5 L595.5,381.1 L598.5,379.6 L601.5,378.0 L604.5,376.2 L607.5,374.4 L610.5,372.5 L613.5,370.4 L616.5,368.3 L619.5,366.1 L622.5,363.8 L625.5,361.4 L628.5,358.9 L631.5,356.3 L634.5,353.7 L637.5,351.0 L640.5,348.2 L643.5,345.3 L646.5,342.5 L649.5,339.6 L652.5,336.8 L655.5,333.9 L658.5,331.1 L661.5,328.4 L664.5,325.7 L667.5,323.2 L670.5,320.7 L673.5,318.4 L676.5,316.2 L679.5,314.2 L682.5,312.4 L685.5,310.8 L688.5,309.4 L691.5,308.2 L694.5,307.3 L697.5,306.6 L700.5,306.2 L703.5,306.1 L706.5,306.2 L709.5,306.5 L712.5,307.1 L715.5,307.9 L718.5,308.9 L721.5,310.2 L724.5,311.6 L727.5,313.3 L730.5,315.1 L733.5,317.2 L736.5,319.4 L739.5,321.8 L742.5,324.4 L745.5,327.1 L748.5,329.9 L751.5,332.9 L754.5,335.9 L757.5,339.0 L760.5,342.2 L763.5,345.5 L766.5,348.8 L769.5,352.1 L772.5,355.4 L775.5,358.6 L778.5,361.9 L781.5,365.1 L784.5,368.3 L787.5,371.3 L790.5,374.3 L793.5,377.3 L796.5,380.1 L799.5,382.9 L802.5,385.6 L805.5,388.2 L808.5,390.8 L811.5,393.3 L814.5,395.7 L817.5,398.1 L820.5,400.4 L823.5,402.6 L826.5,404.8 L829.5,406.9 L832.5,409.0 L835.5,411.0 L838.5,413.0 L841.5,414.9 L844.5,416.8 L847.5,418.7 L850.5,420.5 L853.5,422.2 L856.5,423.9 L859.5,425.6 L862.5,427.2 L865.5,428.8 L868.5,430.4 L871.5,431.9 L874.5,433.5 L877.5,434.9 L880.5,436.4 L883.5,437.8 L886.5,439.2 L889.5,440.6 L892.5,442.0 L895.5,443.4 L898.5,444.7 L901.5,446.1 L904.5,447.4 L907.5,448.7 L910.5,450.0 L913.5,451.3 L916.5,452.6 L919.5,453.9 L922.5,455.2 L925.5,456.4 L928.5,457.7 L931.5,459.0 L934.5,460.3 L937.5,461.5 L940.5,462.8 L943.5,464.0 L946.5,465.3 L949.5,466.5 L952.5,467.7 L955.5,469.0 L958.5,470.2 L961.5,471.4 L964.5,472.6 L967.5,473.8 L970.5,475.0 L973.5,476.2 L976.5,477.4 L979.5,478.6 L982.5,479.8 L985.5,481.0 L988.5,482.2 L991.5,483.4 L994.5,484.5 L997.5,485.7 L1000.5,486.9 L1003.5,488.0 L1006.5,489.2 L1009.5,490.4 L1012.5,491.5 L1015.5,492.6 L1018.5,493.8 L1021.5,494.9 L1024.5,496.1 L1027.5,497.2 L1030.5,498.3 L1033.5,499.5 L1036.5,500.6 L1039.5,501.7 L1042.5,502.8 L1045.5,503.9 L1048.5,505.1 L1051.5,506.2 L1054.5,507.3 L1057.5,508.4 L1060.5,509.5 L1063.5,510.6 L1066.5,511.7 L1069.5,512.8 L1072.5,513.9 L1075.5,514.9 L1078.5,516.0 L1081.5,517.1 L1084.5,518.2 L1087.5,519.3 L1090.5,520.4 L1093.5,521.4 L1096.5,522.5 L1099.5,523.6 L1102.5,524.7 L1105.5,525.7 L1108.5,526.8 L1111.5,527.9 L1114.5,528.9 L1117.5,530.0 L1120.5,531.0 L1123.5,532.1 L1126.5,533.2 L1129.5,534.2 L1132.5,535.3 L1135.5,536.3 L1138.5,537.4 L1141.5,538.4 L1144.5,539.5 L1147.5,540.5 L1150.5,541.6 L1153.5,542.6 L1156.5,543.7 L1159.5,544.7 L1162.5,545.8 L1165.5,546.8 L1168.5,547.9 L1171.5,548.9 L1174.5,550.0 L1177.5,551.0 L1180.5,552.1 L1183.5,553.1 L1186.5,554.1 L1189.5,555.2 L1192.5,556.2 L1195.5,557.3 L1198.5,558.3 L1201.5,559.4 L1204.5,560.4 L1207.5,561.4 L1210.5,562.5 L1213.5,563.5 L1216.5,564.6 L1219.5,565.6 L1222.5,566.7 L1225.5,567.7 L1228.5,568.8 L1231.5,569.8 L1234.5,570.9 L1237.5,571.9 L1240.5,573.0 L1243.5,574.0 L1246.5,575.1 L1249.5,576.1 L1252.5,577.2 L1255.5,578.2 L1258.5,579.3 L1261.5,580.3 L1264.5,581.4 L1267.5,582.4 L1270.5,583.5 L1273.5,584.5 L1276.5,585.6 L1279.5,586.6 L1282.5,587.7 L1285.5,588.7 L1288.5,589.8 L1291.5,590.8 L1294.5,591.9 L1297.5,592.9 L1300.5,594.0 L1303.5,595.0 L1306.5,596.1 L1309.5,597.2 L1312.5,598.2 L1315.5,599.3 L1318.5,600.3 L1321.5,601.4 L1324.5,602.5 L1327.5,603.5 L1330.5,604.6 L1333.5,605.6 L1336.5,606.7 L1339.5,607.8 L1342.5,608.8 L1345.5,609.9 L1348.5,611.0 L1351.5,612.0 L1354.5,613.1 L1357.5,614.2 L1360.5,615.2 L1363.5,616.3 L1366.5,617.4 L1369.5,618.4 L1372.5,619.5 L1375.5,620.6 L1378.5,621.6 L1381.5,622.7 L1384.5,623.8 L1387.5,624.9 L1390.5,625.9 L1393.5,627.0 L1396.5,628.1 L1399.5,629.2 L1402.5,630.2 L1405.5,631.3 L1408.5,632.4 L1411.5,633.5 L1414.5,634.6 L1417.5,635.6 L1420.5,636.7 L1423.5,637.8 L1426.5,638.9 L1429.5,640.0 L1432.5,641.1 L1435.5,642.2 L1438.5,643.2 L1441.5,644.3 L1444.5,645.4 L1447.5,646.5 L1450.5,647.6 L1453.5,648.7 L1456.5,649.8 L1459.5,650.9 L1462.5,652.0 L1465.5,653.1 L1468.5,654.2 L1471.5,655.3 L1474.5,656.4 L1477.5,657.5 L1480.5,658.6 L1483.5,659.7 L1486.5,660.8 L1489.5,661.9 L1492.5,663.0 L1495.5,664.1 L1498.5,665.2 L1501.5,666.3 L1504.5,667.4 L1507.5,668.5 L1510.5,669.6 L1513.5,670.7 L1516.5,671.9 L1519.5,673.0 L1522.5,674.1 L1525.5,675.2 L1528.5,676.3 L1531.5,677.4 L1534.5,678.6 L1537.5,679.7 L1540.5,680.8 L1543.5,681.9 L1546.5,683.1 L1549.5,684.2 L1552.5,685.3 L1555.5,686.4 L1558.5,687.6 L1561.5,688.7 L1564.5,689.8 L1567.5,691.0 L1570.5,692.1 L1573.5,693.2 L1576.5,694.4 L1579.5,695.5 L1582.5,696.6 L1585.5,697.8 L1588.5,698.9 L1591.5,700.1 L1594.5,701.2 L1597.5,702.4 L1600.5,703.5 L1603.5,704.7 L1606.5,705.8 L1609.5,707.0 L1612.5,708.1 L1615.5,709.3 L1618.5,710.4 L1621.5,711.6 L1624.5,712.7 L1627.5,713.9 L1630.5,715.1 L1633.5,716.2 L1636.5,717.4 L1639.5,718.6 L1642.5,719.7 L1645.5,720.9 L1648.5,722.1 L1651.5,723.2 L1654.5,724.4 L1657.5,725.6 L1660.5,726.8 L1663.5,727.9 L1666.5,729.1 L1669.5,730.3 L1672.5,731.5 L1675.5,732.7 L1678.5,733.8 L1681.5,735.0 L1684.5,736.2 L1687.5,737.4 L1690.5,738.6 L1693.5,739.8 L1696.5,741.0 L1699.5,742.2 L1702.5,743.4 L1705.5,744.6 L1708.5,745.8 L1711.5,747.0 L1714.5,748.2 L1717.5,749.4 L1720.5,750.6 L1723.5,751.8 L1726.5,753.0 L1729.5,754.2 L1732.5,755.4 L1735.5,756.7 L1738.5,757.9 L1741.5,759.1 L1744.5,760.3 L1747.5,761.5 L1750.5,762.8 L1753.5,764.0 L1756.5,765.2 L1759.5,766.4 L1762.5,767.7 L1765.5,768.9 L1768.5,770.1 L1771.5,771.4 L1774.5,772.6 L1777.5,773.9 L1780.5,775.1 L1783.5,776.3 L1786.5,777.6 L1789.5,778.8 L1792.5,780.1 L1795.5,781.3 L1798.5,782.6 L1801.5,783.9 L1804.5,785.1 L1807.5,786.4 L1810.5,787.6 L1813.5,788.9 L1816.5,790.2 L1819.5,791.4 L1822.5,792.7 L1825.5,794.0 L1828.5,795.2 L1831.5,796.5 L1834.5,797.8 L1837.5,799.1 L1840.5,800.3 L1843.5,801.6 L1846.5,802.9 L1849.5,804.2 L1852.5,805.5 L1855.5,806.8 L1858.5,808.1 L1861.5,809.4 L1864.5,810.7 L1867.5,812.0 L1870.5,813.3 L1873.5,814.6 L1876.5,815.9 L1879.5,817.2 L1882.5,818.5 L1885.5,819.8 L1888.5,821.1 L1891.5,822.4 L1894.5,823.8 L1897.5,825.1 L1900.5,826.4 L1903.5,827.7 L1906.5,829.0 L1909.5,830.4 L1912.5,831.7 L1915.5,833.0 L1918.5,834.4 L1921.5,835.7 L1924.5,837.1 L1927.5,838.4 L1930.5,839.7 L1933.5,841.1 L1936.5,842.4 L1939.5,843.8 L1942.5,845.1 L1945.5,846.5 L1948.5,847.9 L1951.5,849.2 L1954.5,850.6 L1957.5,851.9 L1960.5,853.3 L1963.5,854.7 L1966.5,856.1 L1969.5,857.4 L1972.5,858.8 L1975.5,860.2 L1978.5,861.6 L1981.5,863.0 L1984.5,864.3 L1987.5,865.7 L1990.5,867.1 L1993.5,868.5 L1996.5,869.9 L1999.5,871.3 L2002.5,872.7 L2005.5,874.1 L2008.5,875.5 L2011.5,876.9 L2014.5,878.3 L2017.5,879.8 L2020.5,881.2 L2023.5,882.6 L2026.5,884.0 L2029.5,885.4 L2030.5,885.9" stroke="#008000" stroke-width="4.0"/>
<path d="M229.5,375.8 L232.5,375.9 L235.5,376.1 L238.5,376.2 L241.5,376.3 L244.5,376.4 L247.5,376.5 L250.5,376.5 L253.5,376.6 L256.5,376.6 L259.5,376.6 L262.5,376.6 L265.5,376.6 L268.5,376.6 L271.5,376.6 L274.5,376.5 L277.5,376.5 L280.5,376.4 L283.5,376.3 L286.5,376.2 L289.5,376.1 L292.5,376.0 L295.5,375.9 L298.5,375.7 L301.5,375.6 L304.5,375.4 L307.5,375.2 L310.5,375.0 L313.5,374.8 L316.5,374.6 L319.5,374.4 L322.5,374.2 L325.5,373.9 L328.5,373.7 L331.5,373.4 L334.5,373.1 L337.5,372.9 L340.5,372.6 L343.5,372.3 L346.5,372.0 L349.5,371.7 L352.5,371.3 L355.5,371.0 L358.5,370.7 L361.5,370.3 L364.5,370.0 L367.5,369.6 L370.5,369.3 L373.5,368.9 L376.5,368.5 L379.5,368.1 L382.5,367.7 L385.5,367.4 L388.5,367.0 L391.5,366.5 L394.5,366.1 L397.5,365.7 L400.5,365.3 L403.5,364.9 L406.5,364.4 L409.5,364.0 L412.5,363.6 L415.5,363.1 L418.5,362.7 L421.5,362.2 L424.5,361.8 L427.5,361.3 L430.5,360.9 L433.5,360.4 L436.5,359.9 L439.5,359.5 L442.5,359.0 L445.5,358.5 L448.5,358.1 L451.5,357.6 L454.5,357.1 L457.5,356.6 L460.5,356.2 L463.5,355.7 L466.5,355.2 L469.5,354.7 L472.5,354.3 L475.5,353.8 L478.5,353.3 L481.5,352.8 L484.5,352.4 L487.5,351.9 L490.5,351.4 L493.5,350.9 L496.5,350.5 L499.5,350.0 L502.5,349.5 L505.5,349.0 L508.5,348.5 L511.5,347.9 L514.5,347.4 L517.5,346.8 L520.5,346.2 L523.5,345.6 L526.5,344.9 L529.5,344.2 L532.5,343.5 L535.5,342.7 L538.5,341.9 L541.5,341.1 L544.5,340.2 L547.5,339.2 L550.5,338.3 L553.5,337.2 L556.5,336.1 L559.5,335.0 L562.5,333.7 L565.5,332.4 L568.5,331.0 L571.5,329.5 L574.5,327.9 L577.5,326.2 L580.5,324.3 L583.5,322.3 L586.5,320.2 L589.5,317.9 L592.5,315.4 L595.5,312.9 L598.5,310.2 L601.5,307.4 L604.5,304.4 L607.5,301.4 L610.5,298.2 L613.5,295.0 L616.5,291.7 L619.5,288.3 L622.5,284.8 L625.5,281.2 L628.5,277.6 L631.5,274.0 L634.5,270.3 L637.5,266.5 L640.5,262.8 L643.5,259.0 L646.5,255.2 L649.5,251.5 L652.5,247.8 L655.5,244.2 L658.5,240.7 L661.5,237.3 L664.5,234.0 L667.5,230.9 L670.5,227.9 L673.5,225.1 L676.5,222.4 L679.5,220.0 L682.5,217.9 L685.5,215.9 L688.5,214.3 L691.5,212.9 L694.5,211.9 L697.5,211.1 L700.5,210.7 L703.5,210.6 L706.5,210.8 L709.5,211.3 L712.5,212.1 L715.5,213.2 L718.5,214.6 L721.5,216.3 L724.5,218.3 L727.5,220.5 L730.5,222.9 L733.5,225.5 L736.5,228.3 L739.5,231.3 L742.5,234.4 L745.5,237.6 L748.5,241.0 L751.5,244.5 L754.5,248.0 L757.5,251.7 L760.5,255.3 L763.5,259.0 L766.5,262.7 L769.5,266.4 L772.5,270.0 L775.5,273.6 L778.5,277.2 L781.5,280.6 L784.5,284.0 L787.5,287.2 L790.5,290.3 L793.5,293.3 L796.5,296.1 L799.5,298.6 L802.5,301.0 L805.5,303.2 L808.5,305.1 L811.5,306.9 L814.5,308.4 L817.5,309.8 L820.5,311.0 L823.5,312.1 L826.5,313.1 L829.5,313.9 L832.5,314.7 L835.5,315.3 L838.5,315.9 L841.5,316.4 L844.5,316.8 L847.5,317.2 L850.5,317.6 L853.5,317.9 L856.5,318.3 L859.5,318.6 L862.5,319.0 L865.5,319.5 L868.5,319.9 L871.5,320.4 L874.5,320.9 L877.5,321.4 L880.5,321.9 L883.5,322.5 L886.5,323.1 L889.5,323.7 L892.5,324.3 L895.5,324.9 L898.5,325.6 L901.5,326.2 L904.5,326.9 L907.5,327.6 L910.5,328.3 L913.5,329.0 L916.5,329.7 L919.5,330.5 L922.5,331.2 L925.5,331.9 L928.5,332.7 L931.5,333.4 L934.5,334.2 L937.5,334.9 L940.5,335.6 L943.5,336.4 L946.5,337.1 L949.5,337.8 L952.5,338.6 L955.5,339.3 L958.5,340.0 L961.5,340.7 L964.5,341.4 L967.5,342.1 L970.5,342.8 L973.5,343.4 L976.5,344.1 L979.5,344.7 L982.5,345.4 L985.5,346.0 L988.5,346.6 L991.5,347.2 L994.5,347.8 L997.5,348.4 L1000.5,349.0 L1003.5,349.6 L1006.5,350.2 L1009.5,350.7 L1012.5,351.3 L1015.5,351.8 L1018.5,352.4 L1021.5,352.9 L1024.5,353.4 L1027.5,354.0 L1030.5,354.5 L1033.5,355.0 L1036.5,355.5 L1039.5,356.0 L1042.5,356.5 L1045.5,356.9 L1048.5,357.4 L1051.5,357.9 L1054.5,358.3 L1057.5,358.8 L1060.5,359.2 L1063.5,359.7 L1066.5,360.1 L1069.5,360.6 L1072.5,361.0 L1075.5,361.4 L1078.5,361.8 L1081.5,362.3 L1084.5,362.7 L1087.5,363.1 L1090.5,363.5 L1093.5,363.9 L1096.5,364.3 L1099.5,364.7 L1102.5,365.1 L1105.5,365.4 L1108.5,365.8 L1111.5,366.2 L1114.5,366.6 L1117.5,366.9 L1120.5,367.3 L1123.5,367.7 L1126.5,368.0 L1129.5,368.4 L1132.5,368.7 L1135.5,369.1 L1138.5,369.5 L1141.5,369.8 L1144.5,370.2 L1147.5,370.5 L1150.5,370.8 L1153.5,371.2 L1156.5,371.5 L1159.5,371.9 L1162.5,372.2 L1165.5,372.6 L1168.5,372.9 L1171.5,373.2 L1174.5,373.6 L1177.5,373.9 L1180.5,374.2 L1183.5,374.6 L1186.5,374.9 L1189.5,375.2 L1192.5,375.6 L1195.5,375.9 L1198.5,376.2 L1201.5,376.6 L1204.5,376.9 L1207.5,377.3 L1210.5,377.6 L1213.5,377.9 L1216.5,378.3 L1219.5,378.6 L1222.5,379.0 L1225.5,379.3 L1228.5,379.7 L1231.5,380.0 L1234.5,380.4 L1237.5,380.7 L1240.5,381.1 L1243.5,381.4 L1246.5,381.8 L1249.5,382.1 L1252.5,382.5 L1255.5,382.9 L1258.5,383.2 L1261.5,383.6 L1264.5,384.0 L1267.5,384.4 L1270.5,384.8 L1273.5,385.2 L1276.5,385.5 L1279.5,385.9 L1282.5,386.3 L1285.5,386.7 L1288.5,387.2 L1291.5,387.6 L1294.5,388.0 L1297.5,388.4 L1300.5,388.8 L1303.5,389.3 L1306.5,389.7 L1309.5,390.1 L1312.5,390.6 L1315.5,391.0 L1318.5,391.5 L1321.5,391.9 L1324.5,392.4 L1327.5,392.8 L1330.5,393.3 L1333.5,393.7 L1336.5,394.2 L1339.5,394.7 L1342.5,395.2 L1345.5,395.6 L1348.5,396.1 L1351.5,396.6 L1354.5,397.1 L1357.5,397.6 L1360.5,398.1 L1363.5,398.6 L1366.5,399.1 L1369.5,399.6 L1372.5,400.1 L1375.5,400.6 L1378.5,401.2 L1381.5,401.7 L1384.5,402.2 L1387.5,402.7 L1390.5,403.3 L1393.5,403.8 L1396.5,404.3 L1399.5,404.9 L1402.5,405.4 L1405.5,406.0 L1408.5,406.5 L1411.5,407.1 L1414.5,407.6 L1417.5,408.2 L1420.5,408.8 L1423.5,409.3 L1426.5,409.9 L1429.5,410.5 L1432.5,411.0 L1435.5,411.6 L1438.5,412.2 L1441.5,412.8 L1444.5,413.4 L1447.5,414.0 L1450.5,414.6 L1453.5,415.1 L1456.5,415.7 L1459.5,416.3 L1462.5,416.9 L1465.5,417.6 L1468.5,418.2 L1471.5,418.8 L1474.5,419.4 L1477.5,420.0 L1480.5,420.6 L1483.5,421.2 L1486.5,421.9 L1489.5,422.5 L1492.5,423.1 L1495.5,423.8 L1498.5,424.4 L1501.5,425.0 L1504.5,425.7 L1507.5,426.3 L1510.5,426.9 L1513.5,427.6 L1516.5,428.2 L1519.5,428.9 L1522.5,429.5 L1525.5,430.2 L1528.5,430.8 L1531.5,431.5 L1534.5,432.2 L1537.5,432.8 L1540.5,433.5 L1543.5,434.2 L1546.5,434.8 L1549.5,435.5 L1552.5,436.2 L1555.5,436.9 L1558.5,437.5 L1561.5,438.2 L1564.5,438.9 L1567.5,439.6 L1570.5,440.3 L1573.5,440.9 L1576.5,441.6 L1579.5,442.3 L1582.5,443.0 L1585.5,443.7 L1588.5,444.4 L1591.5,445.1 L1594.5,445.8 L1597.5,446.5 L1600.5,447.2 L1603.5,447.9 L1606.5,448.6 L1609.5,449.3 L1612.5,450.0 L1615.5,450.8 L1618.5,451.5 L1621.5,452.2 L1624.5,452.9 L1627.5,453.6 L1630.5,454.3 L1633.5,455.0 L1636.5,455.8 L1639.5,456.5 L1642.5,457.2 L1645.5,457.9 L1648.5,458.7 L1651.5,459.4 L1654.5,460.1 L1657.5,460.9 L1660.5,461.6 L1663.5,462.3 L1666.5,463.0 L1669.5,463.8 L1672.5,464.5 L1675.5,465.3 L1678.5,466.0 L1681.5,466.7 L1684.5,467.5 L1687.5,468.2 L1690.5,469.0 L1693.5,469.7 L1696.5,470.4 L1699.5,471.2 L1702.5,471.9 L1705.5,472.7 L1708.5,473.4 L1711.5,474.2 L1714.5,474.9 L1717.5,475.7 L1720.5,476.4 L1723.5,477.2 L1726.5,477.9 L1729.5,478.7 L1732.5,479.4 L1735.5,480.2 L1738.5,480.9 L1741.5,481.7 L1744.5,482.4 L1747.5,483.2 L1750.5,484.0 L1753.5,484.7 L1756.5,485.5 L1759.5,486.2 L1762.5,487.0 L1765.5,487.7 L1768.5,488.5 L1771.5,489.3 L1774.5,490.0 L1777.5,490.8 L1780.5,491.5 L1783.5,492.3 L1786.5,493.1 L1789.5,493.8 L1792.5,494.6 L1795.5,495.3 L1798.5,496.1 L1801.5,496.9 L1804.5,497.6 L1807.5,498.4 L1810.5,499.2 L1813.5,499.9 L1816.5,500.7 L1819.5,501.4 L1822.5,502.2 L1825.5,503.0 L1828.5,503.7 L1831.5,504.5 L1834.5,505.3 L1837.5,506.0 L1840.5,506.8 L1843.5,507.5 L1846.5,508.3 L1849.5,509.1 L1852.5,509.8 L1855.5,510.6 L1858.5,511.3 L1861.5,512.1 L1864.5,512.9 L1867.5,513.6 L1870.5,514.4 L1873.5,515.1 L1876.5,515.9 L1879.5,516.6 L1882.5,517.4 L1885.5,518.2 L1888.5,518.9 L1891.5,519.7 L1894.5,520.4 L1897.5,521.2 L1900.5,521.9 L1903.5,522.7 L1906.5,523.4 L1909.5,524.2 L1912.5,524.9 L1915.5,525.7 L1918.5,526.4 L1921.5,527.2 L1924.5,527.9 L1927.5,528.7 L1930.5,529.4 L1933.5,530.2 L1936.5,530.9 L1939.5,531.6 L1942.5,532.4 L1945.5,533.1 L1948.5,533.9 L1951.5,534.6 L1954.5,535.3 L1957.5,536.1 L1960.5,536.8 L1963.5,537.5 L1966.5,538.3 L1969.5,539.0 L1972.5,539.7 L1975.5,540.5 L1978.5,541.2 L1981.5,541.9 L1984.5,542.7 L1987.5,543.4 L1990.5,544.1 L1993.5,544.8 L1996.5,545.5 L1999.5,546.3 L2002.5,547.0 L2005.5,547.7 L2008.5,548.4 L2011.5,549.1 L2014.5,549.8 L2017.5,550.5 L2020.5,551.3 L2023.5,552.0 L2026.5,552.7 L2029.5,553.4 L2030.5,553.6" stroke="#922b98" stroke-width="2.9"/>
</g>
<rect x="1599.5" y="105.5" width="431.0" height="246.0" fill="#fff" stroke="#6e6e6e" stroke-width="2"/>
<line x1="1631.8" x2="1686.3" y1="139.8" y2="139.8" stroke="#0072bd" stroke-width="4.2"/>
<text class="lg" transform="translate(1691,157.9) scale(0.963,1)">13th Order filter</text>
<line x1="1631.8" x2="1686.3" y1="199.1" y2="199.1" stroke="#c2c200" stroke-width="3.8"/>
<text class="lg" transform="translate(1691,217.5) scale(0.963,1)">10th Order filter</text>
<line x1="1631.8" x2="1686.3" y1="259.5" y2="259.5" stroke="#008000" stroke-width="4.4"/>
<text class="lg" transform="translate(1691,278.1) scale(0.963,1)">7th Order filter</text>
<line x1="1631.8" x2="1686.3" y1="318.7" y2="318.7" stroke="#922b98" stroke-width="3.5"/>
<text class="lg" transform="translate(1691,336.5) scale(0.963,1)">4th Order filter</text>
<text class="tk" transform="translate(212.3,125.6) scale(0.907,1)" text-anchor="end">0</text>
<text class="tk" transform="translate(212.3,271.4) scale(0.907,1)" text-anchor="end">-20</text>
<text class="tk" transform="translate(212.3,417.2) scale(0.907,1)" text-anchor="end">-40</text>
<text class="tk" transform="translate(212.3,563.0) scale(0.907,1)" text-anchor="end">-60</text>
<text class="tk" transform="translate(212.3,708.8) scale(0.907,1)" text-anchor="end">-80</text>
<text class="tk" transform="translate(212.3,854.6) scale(0.907,1)" text-anchor="end">-100</text>
<text class="tk" transform="translate(212.3,1000.4) scale(0.907,1)" text-anchor="end">-120</text>
<text class="tk" transform="translate(212.3,1146.2) scale(0.907,1)" text-anchor="end">-140</text>
<text class="tk" transform="translate(212.3,1292.0) scale(0.907,1)" text-anchor="end">-160</text>
<text class="tk" transform="translate(212.3,1437.8) scale(0.907,1)" text-anchor="end">-180</text>
<text class="tk" transform="translate(212.3,1583.6) scale(0.907,1)" text-anchor="end">-200</text>
<text class="tx" transform="translate(267,1646.5) scale(0.91,1)">10</text>
<text class="sp" transform="translate(323.4,1621.5) scale(0.88,1)">1</text>
<text class="tx" transform="translate(1991.2,1646.5) scale(0.91,1)">10</text>
<text class="sp" transform="translate(2046.7,1621.5) scale(0.88,1)">2</text>
<text class="lb" transform="translate(1150.3,1652.9) scale(0.9666,1)" text-anchor="middle">Frequency (kHz)</text>
<text class="yl" transform="translate(74,817.65) rotate(-90) scale(1.063,1)" text-anchor="middle">Magnitude (dB)</text>
<text class="tt" transform="translate(1151.05,82) scale(0.93,1)" text-anchor="middle">S21 Magnitude Plot</text>
</svg></body></html>
